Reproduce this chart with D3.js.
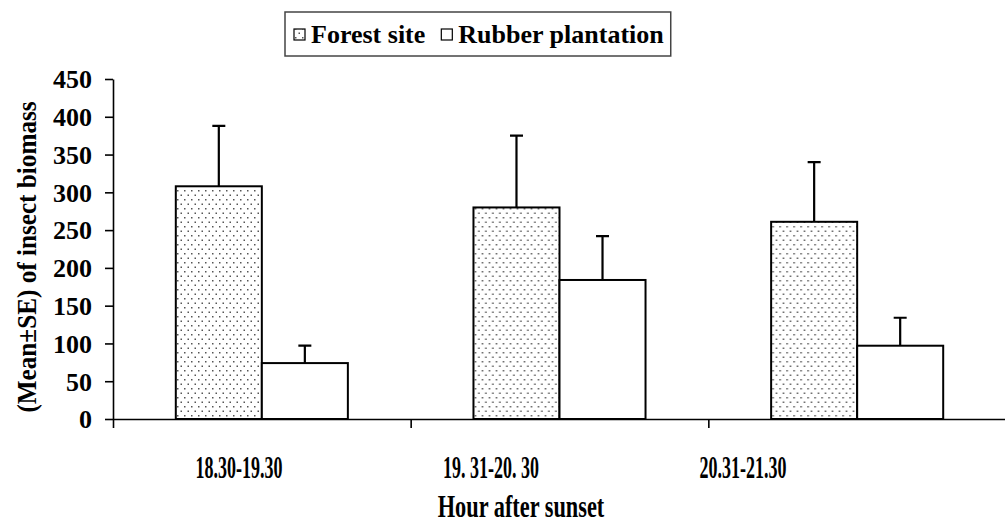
<!DOCTYPE html>
<html>
<head>
<meta charset="utf-8">
<script src="https://cdn.jsdelivr.net/npm/d3@7/dist/d3.min.js"></script>
<style>
  html, body { margin: 0; padding: 0; background: #fff; }
  svg { display: block; }
  text { font-family: "Liberation Serif", "Times New Roman", serif; font-weight: bold; fill: #000; }
</style>
</head>
<body>
<svg id="chart" width="1005" height="526"></svg>
<script>
// Insect biomass by hour after sunset (mean ± SE)
const categories = ["18.30-19.30", "19. 31-20. 30", "20.31-21.30"];
const seriesNames = ["Forest site", "Rubber plantation"];
const forestMean = [308, 280, 261];
const forestSE = [80, 95, 79];
const rubberMean = [74, 184, 97];
const rubberSE = [23, 58, 37];
const yTicks = [0, 50, 100, 150, 200, 250, 300, 350, 400, 450];

const svg = d3.select("#chart");

// dotted fill used for the forest bars
const defs = svg.append("defs");
const pat = defs.append("pattern")
  .attr("id", "dots")
  .attr("patternUnits", "userSpaceOnUse")
  .attr("width", 7).attr("height", 9);
pat.append("rect").attr("width", 7).attr("height", 9).attr("fill", "#fff");
pat.append("rect").attr("x", 1).attr("y", 1).attr("width", 1.5).attr("height", 1.5).attr("fill", "#555");
pat.append("rect").attr("x", 4.5).attr("y", 5.5).attr("width", 1.5).attr("height", 1.5).attr("fill", "#555");

const plot = { left: 113, right: 1006, top: 79, bottom: 419 };

const y = d3.scaleLinear().domain([0, 450]).range([plot.bottom, plot.top]);
const x0 = d3.scaleBand().domain(categories).range([plot.left, plot.right]).padding(0);
const x1 = d3.scaleBand().domain(seriesNames).range([0, x0.bandwidth()])
  .paddingInner(0).paddingOuter(0.73);
// category labels sit on their own, narrower band scale
const xLabel = d3.scaleBand().domain(categories).range([plot.left, 869]).padding(0);
// tick positions at the category boundaries
const xBound = d3.scaleLinear().domain([0, categories.length]).range([plot.left, plot.right]);

const rows = categories.map((c, i) => ({
  cat: c,
  values: [
    { name: seriesNames[0], mean: forestMean[i], se: forestSE[i], fill: "url(#dots)" },
    { name: seriesNames[1], mean: rubberMean[i], se: rubberSE[i], fill: "#fff" }
  ]
}));

// bars
const groups = svg.append("g").selectAll("g").data(rows).join("g")
  .attr("transform", d => `translate(${x0(d.cat)},0)`);

groups.selectAll("rect").data(d => d.values).join("rect")
  .attr("x", d => x1(d.name))
  .attr("y", d => y(d.mean))
  .attr("width", x1.bandwidth())
  .attr("height", d => y(0) - y(d.mean))
  .attr("fill", d => d.fill)
  .attr("stroke", "#000")
  .attr("stroke-width", 2);

// upper error bars
const capHalf = 6.5;
groups.selectAll("path.err").data(d => d.values).join("path")
  .attr("class", "err")
  .attr("d", d => {
    const cx = x1(d.name) + x1.bandwidth() / 2;
    return `M${cx},${y(d.mean)}V${y(d.mean + d.se)}M${cx - capHalf},${y(d.mean + d.se)}H${cx + capHalf}`;
  })
  .attr("fill", "none")
  .attr("stroke", "#000")
  .attr("stroke-width", 2.2);

// y axis
const yAxis = svg.append("g")
  .attr("transform", `translate(${plot.left},0)`)
  .call(d3.axisLeft(y).tickValues(yTicks).tickSize(8).tickPadding(13).tickSizeOuter(0));
yAxis.selectAll("text").style("font-size", "26px").attr("dy", "0.34em");
yAxis.selectAll("line, path").attr("stroke", "#000").attr("stroke-width", 1.6);

// x axis
const xAxis = svg.append("g")
  .attr("transform", `translate(0,${plot.bottom})`)
  .call(d3.axisBottom(xBound).ticks(categories.length).tickSize(9).tickFormat("").tickSizeOuter(0));
xAxis.selectAll("line, path").attr("stroke", "#000").attr("stroke-width", 1.6);

// category labels
svg.append("g").selectAll("text").data(categories).join("text")
  .attr("transform", d => `translate(${xLabel(d) + xLabel.bandwidth() / 2},478) scale(0.58,1)`)
  .attr("text-anchor", "middle")
  .style("font-size", "31px")
  .text(d => d);

// axis titles
svg.append("text")
  .attr("transform", "translate(521,517) scale(0.72,1)")
  .attr("text-anchor", "middle")
  .style("font-size", "31px")
  .text("Hour after sunset");

svg.append("text")
  .attr("transform", "translate(36,257) rotate(-90) scale(0.9,1)")
  .attr("text-anchor", "middle")
  .style("font-size", "28px")
  .text("(Mean±SE) of insect biomass");

// legend
const legend = svg.append("g");
const box = legend.append("rect")
  .attr("x", 285).attr("y", 12).attr("height", 44)
  .attr("fill", "#fff").attr("stroke", "#444").attr("stroke-width", 1.5);
const legendItems = [
  { name: seriesNames[0], fill: "url(#dots)" },
  { name: seriesNames[1], fill: "#fff" }
];
let lx = 294;
legendItems.forEach((d, i) => {
  legend.append("rect")
    .attr("x", lx).attr("y", 29).attr("width", 11).attr("height", 11)
    .attr("fill", d.fill).attr("stroke", "#000").attr("stroke-width", 1.2);
  const t = legend.append("text")
    .attr("x", lx + 17).attr("y", 43)
    .style("font-size", "26px")
    .text(d.name);
  lx = lx + 17 + t.node().getComputedTextLength() + (i === 0 ? 16 : 0);
});
box.attr("width", lx + 7 - 285);
</script>
</body>
</html>
